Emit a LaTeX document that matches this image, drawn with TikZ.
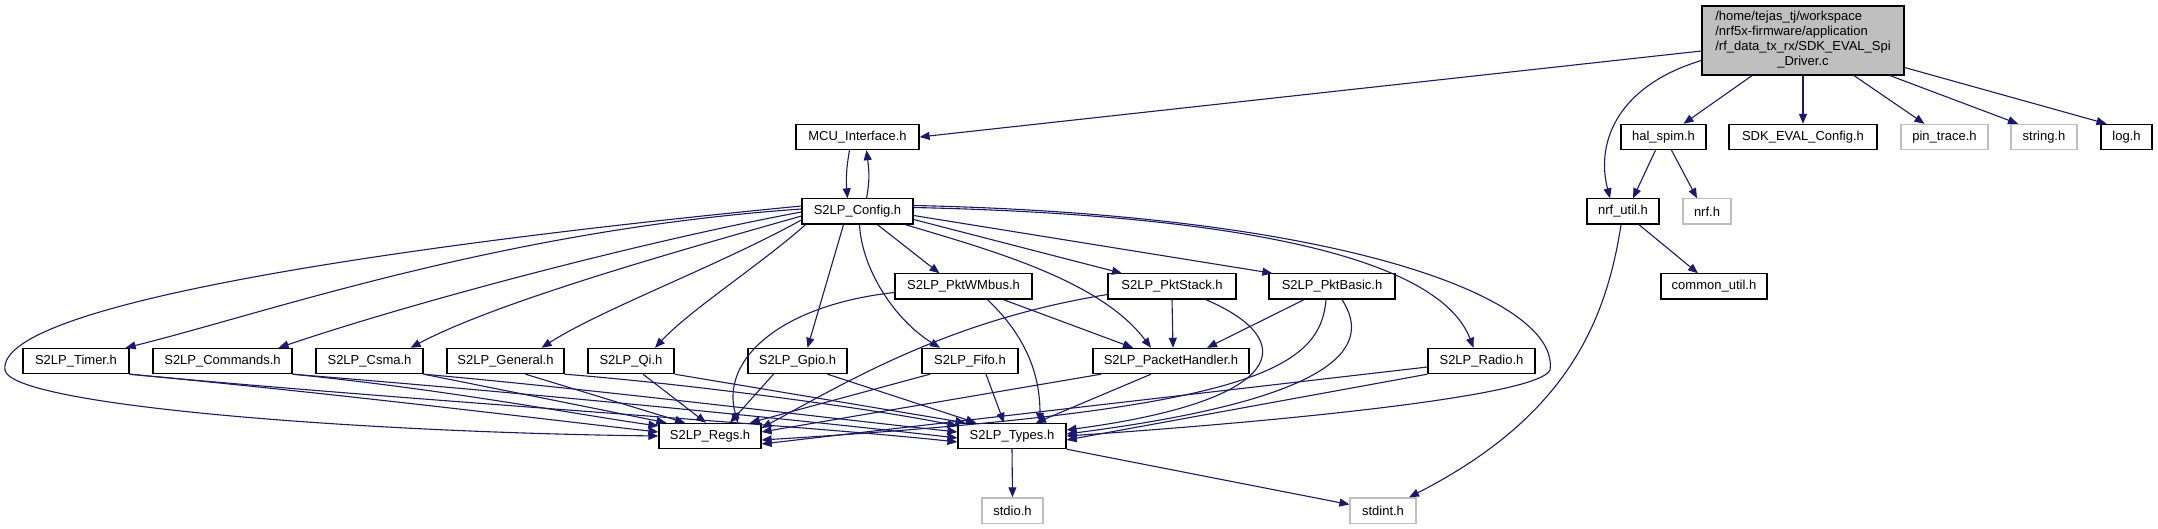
\documentclass[tikz,border=0pt]{standalone}
\usepackage{fontspec}
\setmainfont{Liberation Sans}
\usetikzlibrary{arrows.meta}
\definecolor{edgec}{HTML}{191970}
\definecolor{grayb}{HTML}{BFBFBF}
\begin{document}
\begin{tikzpicture}[x=0.5pt,y=-0.5pt,
  box/.style={draw=black, line width=0.6pt, inner sep=0pt, font=\fontsize{6.5pt}{7.5pt}\selectfont, minimum height=12.6pt},
  gbox/.style={box, draw=grayb},
  e/.style={draw=edgec, line width=0.55pt, -{Triangle[length=5pt,width=4pt]}}]
\fill[white] (0,0) rectangle (2158,529);
\useasboundingbox (0,0) rectangle (2158,529);
% row 0
\node[box, fill=grayb, minimum width=101pt, minimum height=34.5pt] (main) at (1803,40.5)
  {\begin{tabular}{@{}l@{}}/home/tejas\_tj/workspace\\/nrf5x-firmware/application\\/rf\_data\_tx\_rx/SDK\_EVAL\_Spi\\\multicolumn{1}{@{}c@{}}{\_Driver.c}\end{tabular}};
% row 1
\node[box, minimum width=61.5pt] (MCU) at (857.5,137) {MCU\_Interface.h};
\node[box, minimum width=42.5pt] (hal) at (1663.5,137) {hal\_spim.h};
\node[box, minimum width=74pt] (sdk) at (1803,137) {SDK\_EVAL\_Config.h};
\node[gbox, minimum width=43.5pt] (pin) at (1944.5,137) {pin\_trace.h};
\node[gbox, minimum width=33pt] (str) at (2044,137) {string.h};
\node[box, minimum width=25.5pt] (log) at (2126.5,137) {log.h};
% row 2
\node[box, minimum width=55.5pt] (cfg) at (857.5,211.5) {S2LP\_Config.h};
\node[box, minimum width=36pt] (nrfu) at (1623,211.5) {nrf\_util.h};
\node[gbox, minimum width=24pt] (nrf) at (1707,211.5) {nrf.h};
% row 3
\node[box, minimum width=68.5pt] (wm) at (963.5,286.5) {S2LP\_PktWMbus.h};
\node[box, minimum width=64pt] (stk) at (1172,286.5) {S2LP\_PktStack.h};
\node[box, minimum width=63pt] (bas) at (1332,286.5) {S2LP\_PktBasic.h};
\node[box, minimum width=53pt] (com) at (1714,286.5) {common\_util.h};
% row 4
\node[box, minimum width=53pt] (tim) at (76,361) {S2LP\_Timer.h};
\node[box, minimum width=69.5pt] (cmd) at (222.5,361) {S2LP\_Commands.h};
\node[box, minimum width=53.5pt] (csma) at (369.5,361) {S2LP\_Csma.h};
\node[box, minimum width=58.5pt] (gen) at (505.5,361) {S2LP\_General.h};
\node[box, minimum width=43pt] (qi) at (631,361) {S2LP\_Qi.h};
\node[box, minimum width=49.5pt] (gpio) at (797.5,361) {S2LP\_Gpio.h};
\node[box, minimum width=48pt] (fifo) at (970,361) {S2LP\_Fifo.h};
\node[box, minimum width=78pt] (ph) at (1171,361) {S2LP\_PacketHandler.h};
\node[box, minimum width=53.5pt] (rad) at (1481.5,361) {S2LP\_Radio.h};
% row 5
\node[box, minimum width=51pt] (regs) at (710,436) {S2LP\_Regs.h};
\node[box, minimum width=54pt] (typ) at (1012,436) {S2LP\_Types.h};
% row 6
\node[gbox, minimum width=30.5pt] (stdio) at (1012.5,510.5) {stdio.h};
\node[gbox, minimum width=33pt] (stdint) at (1383,510.5) {stdint.h};

% edges from main
\draw[e] ([yshift=-5.25pt]main.west) -- (MCU.east);
\draw[e] ([yshift=-10pt]main.west) .. controls (1620,85) and (1595,140) .. ([xshift=-6.5pt]nrfu.north);
\draw[e] ([xshift=-25.5pt]main.south) -- ([xshift=10pt]hal.north);
\draw[e] (main.south) -- (sdk.north);
\draw[e] ([xshift=25.5pt]main.south) -- ([xshift=-10pt]pin.north);
\draw[e] ([xshift=43.5pt]main.south) -- ([xshift=-13pt]str.north);
\draw[e] ([yshift=-13.5pt]main.east) -- ([xshift=-10pt]log.north);
% MCU <-> Config
\draw[e] ([xshift=-4pt]MCU.south) .. controls (846,170) and (846,180) .. ([xshift=-5pt]cfg.north);
\draw[e] ([xshift=4.5pt]cfg.north) .. controls (870,180) and (869,170) .. ([xshift=4.5pt]MCU.south);
% hal, nrf_util
\draw[e] ([xshift=-4pt]hal.south) -- ([xshift=5pt]nrfu.north);
\draw[e] ([xshift=4pt]hal.south) -- ([xshift=-5pt]nrf.north);
\draw[e] ([xshift=8pt]nrfu.south) -- ([xshift=-8pt]com.north);
\draw[e] ([xshift=-1pt]nrfu.south) .. controls (1605,330) and (1560,420) .. ([xshift=13pt]stdint.north);
% Config fan
\draw[e] ([yshift=2.75pt]cfg.west) .. controls (450,240) and (-5,300) .. (5,370) .. controls (10,405) and (350,432) .. (regs.west);
\draw[e] ([yshift=1.25pt]cfg.west) .. controls (500,230) and (260,315) .. ([xshift=-2pt]tim.north east);
\draw[e] ([yshift=-0.25pt]cfg.west) .. controls (650,240) and (420,300) .. ([xshift=-7pt]cmd.north east);
\draw[e] ([yshift=-2.25pt]cfg.west) .. controls (700,245) and (500,300) .. ([xshift=-6.5pt]csma.north east);
\draw[e] ([yshift=-4.25pt]cfg.west) .. controls (720,265) and (600,310) .. ([xshift=-11.5pt]gen.north east);
\draw[e] ([xshift=-26pt]cfg.south) .. controls (760,265) and (690,310) .. ([xshift=12pt]qi.north);
\draw[e] ([xshift=-7pt]cfg.south) -- ([xshift=5pt]gpio.north);
\draw[e] ([xshift=1pt]cfg.south) .. controls (862,270) and (895,320) .. ([xshift=-15pt]fifo.north);
\draw[e] ([xshift=10pt]cfg.south) -- ([xshift=-12pt]wm.north);
\draw[e] ([xshift=24pt]cfg.south) .. controls (990,250) and (1100,280) .. ([xshift=-10pt]ph.north);
\draw[e] ([yshift=-4pt]cfg.east) -- ([xshift=-25pt]stk.north);
\draw[e] ([yshift=-2pt]cfg.east) -- ([xshift=2pt]bas.north west);
\draw[e] ([yshift=2pt]cfg.east) .. controls (1250,215) and (1440,260) .. ([xshift=-4pt]rad.north);
\draw[e] ([yshift=3pt]cfg.east) .. controls (1350,215) and (1560,300) .. (1550,370) .. controls (1540,395) and (1300,420) .. (typ.east);
% row 3 internal
\draw[e] ([xshift=20pt]wm.south) -- ([xshift=-19pt]ph.north);
\draw[e] (stk.south) -- ([xshift=1pt]ph.north);
\draw[e] ([xshift=-14pt]bas.south) -- ([xshift=18pt]ph.north);
\draw[e] ([yshift=-3pt]wm.west) .. controls (780,305) and (720,360) .. ([xshift=14pt]regs.north);
\draw[e] ([xshift=12pt]wm.south) .. controls (1030,340) and (1040,380) .. ([xshift=14pt]typ.north);
\draw[e] ([yshift=-4pt]stk.west) .. controls (950,320) and (850,380) .. ([yshift=4pt]regs.east);
\draw[e] ([xshift=17pt]stk.south) .. controls (1300,340) and (1290,400) .. ([yshift=3pt]typ.east);
\draw[e] ([xshift=-3pt]bas.south) .. controls (1320,370) and (1250,410) .. ([yshift=-2pt]regs.east);
\draw[e] ([xshift=5pt]bas.south) .. controls (1375,350) and (1330,400) .. ([yshift=1pt]typ.east);
% row 4 to Regs / Types
\draw[e] (tim.south east) .. controls (350,395) and (550,420) .. ([yshift=2pt]regs.west);
\draw[e] (tim.south east) .. controls (400,400) and (800,425) .. ([yshift=-3pt]typ.west);
\draw[e] (cmd.south east) .. controls (450,390) and (580,415) .. ([yshift=5pt]regs.west);
\draw[e] (cmd.south east) .. controls (550,395) and (800,420) .. ([yshift=-1pt]typ.west);
\draw[e] (csma.south east) -- ([xshift=4pt]regs.north west);
\draw[e] (csma.south east) .. controls (600,390) and (800,415) .. ([yshift=2pt]typ.west);
\draw[e] ([xshift=10pt]gen.south) -- ([xshift=-12.5pt]regs.north);
\draw[e] (gen.south east) .. controls (700,385) and (880,410) .. ([yshift=5pt]typ.west);
\draw[e] ([xshift=6pt]qi.south) -- ([xshift=-2pt]regs.north);
\draw[e] (qi.south east) -- ([xshift=4pt]typ.north west);
\draw[e] ([xshift=-12pt]gpio.south) -- ([xshift=10pt]regs.north);
\draw[e] ([xshift=15pt]gpio.south) -- ([xshift=-18pt]typ.north);
\draw[e] ([xshift=-20pt]fifo.south) -- ([xshift=20pt]regs.north);
\draw[e] ([xshift=8pt]fifo.south) -- ([xshift=-4pt]typ.north);
\draw[e] ([xshift=-35pt]ph.south) -- ([yshift=2pt]regs.east);
\draw[e] ([xshift=-10pt]ph.south) -- ([xshift=12pt]typ.north);
\draw[e] ([yshift=-3pt]rad.west) -- ([yshift=-4pt]regs.east);
\draw[e] (rad.south west) -- ([yshift=-2pt]typ.east);
% Types
\draw[e] (typ.south) -- (stdio.north);
\draw[e] (typ.south east) -- ([yshift=3pt]stdint.west);
\end{tikzpicture}
\end{document}
